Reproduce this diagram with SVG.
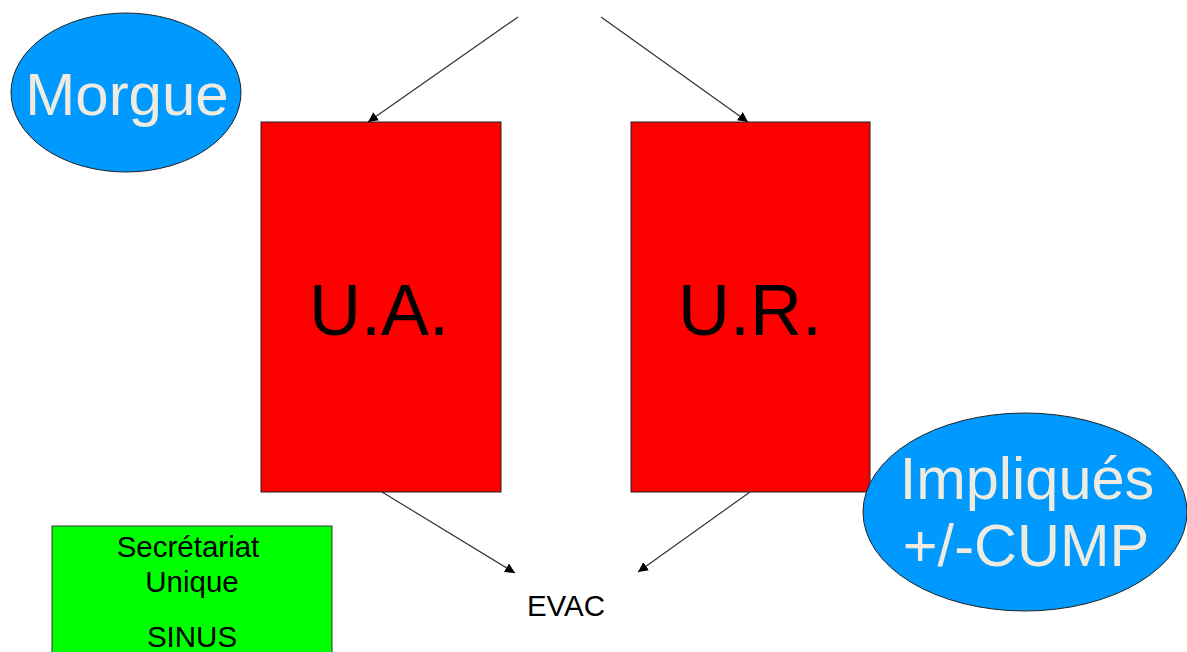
<svg xmlns="http://www.w3.org/2000/svg" width="1187" height="652" viewBox="0 0 1187 652">
<defs>
<marker id="arr" viewBox="0 0 10 10" refX="10" refY="5" markerWidth="10" markerHeight="10" markerUnits="userSpaceOnUse" orient="auto">
<path d="M0,0 L10,5 L0,10 z" fill="#000"/>
</marker>
</defs>
<style>
text{font-family:"Liberation Sans",Arial,sans-serif;text-anchor:middle}
.oval{fill:#0099FF;stroke:#222;stroke-width:1}
.ovt{fill:#EEECE1}
.big{font-size:72px;fill:#000}
.red{fill:#FF0000;stroke:#222;stroke-width:1}
.grn{fill:#00FF00;stroke:#333;stroke-width:1}
.sm{font-size:29.5px;fill:#000}
.conn line{stroke:#333;stroke-width:1.2;marker-end:url(#arr)}
</style>
<rect width="1187" height="652" fill="#fff"/>
<g id="morgue">
<ellipse class="oval" cx="126" cy="92.5" rx="115" ry="79.5"/>
<text class="ovt" x="127" y="115" font-size="60">Morgue</text>
</g>
<g id="ua">
<rect class="red" x="261" y="122" width="240" height="370"/>
<text class="big" x="379" y="335">U.A.</text>
</g>
<g id="ur">
<rect class="red" x="631" y="122" width="239" height="370"/>
<text class="big" x="750" y="335">U.R.</text>
</g>
<g id="impliques">
<ellipse class="oval" cx="1025" cy="512" rx="162" ry="99"/>
<text class="ovt" x="1027" y="499" font-size="59.5">Impliqués</text>
<text class="ovt" x="1026" y="566" font-size="59.5">+/-CUMP</text>
</g>
<g id="secretariat">
<rect class="grn" x="52" y="526" width="280" height="140"/>
<text class="sm" x="188" y="557">Secrétariat</text>
<text class="sm" x="192" y="592">Unique</text>
<text class="sm" x="192" y="647">SINUS</text>
</g>
<g id="evac">
<text class="sm" x="566" y="616">EVAC</text>
</g>
<g class="conn" id="connectors">
<line x1="518" y1="17" x2="368" y2="122"/>
<line x1="601" y1="17" x2="748" y2="122"/>
<line x1="382" y1="492" x2="515" y2="573"/>
<line x1="750" y1="492" x2="638" y2="572"/>
</g>
</svg>
